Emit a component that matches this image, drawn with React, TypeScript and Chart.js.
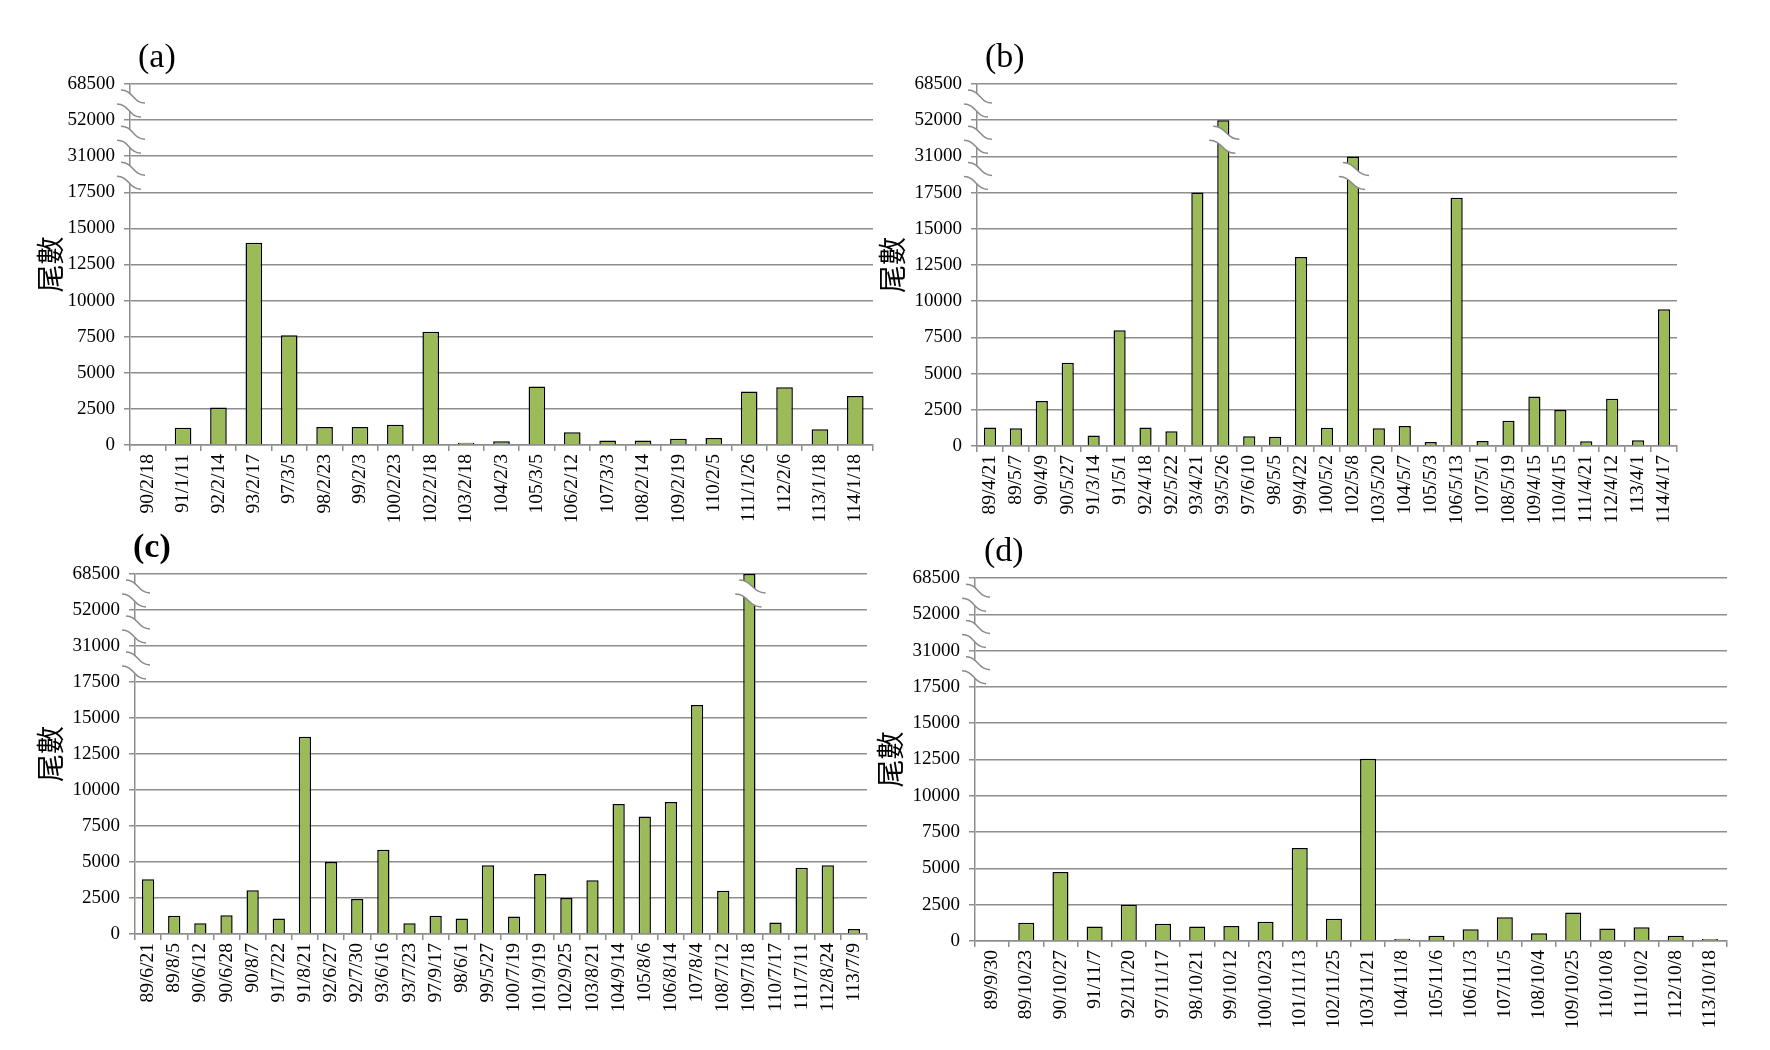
import React, { useEffect, useRef } from "react";
import { Chart, registerables } from "chart.js";

Chart.register(...registerables);

// ---- axis (broken scale) ----
const yTickLabels = ["0", "2500", "5000", "7500", "10000", "12500", "15000", "17500", "31000", "52000", "68500"];
const yTickValues = [0, 2500, 5000, 7500, 10000, 12500, 15000, 17500, 31000, 52000, 68500];
const axisBreakAt = [7.5, 8.5, 9.5];

// ---- (a) ----
const labelsA = ["90/2/18", "91/1/11", "92/2/14", "93/2/17", "97/3/5", "98/2/23", "99/2/3", "100/2/23", "102/2/18", "103/2/18", "104/2/3", "105/3/5", "106/2/12", "107/3/3", "108/2/14", "109/2/19", "110/2/5", "111/1/26", "112/2/6", "113/1/18", "114/1/18"];
const valuesA = [0, 1200, 2600, 14000, 7600, 1250, 1250, 1400, 7850, 150, 260, 4050, 890, 320, 320, 430, 480, 3700, 4000, 1090, 3390];

// ---- (b) ----
const labelsB = ["89/4/21", "89/5/7", "90/4/9", "90/5/27", "91/3/14", "91/5/1", "92/4/18", "92/5/22", "93/4/21", "93/5/26", "97/6/10", "98/5/5", "99/4/22", "100/5/2", "102/5/8", "103/5/20", "104/5/7", "105/5/3", "106/5/13", "107/5/1", "108/5/19", "109/4/15", "110/4/15", "111/4/21", "112/4/12", "113/4/1", "114/4/17"];
const valuesB = [1270, 1230, 3110, 5750, 730, 8000, 1270, 1020, 17500, 52000, 680, 640, 13050, 1260, 31000, 1220, 1380, 280, 17150, 345, 1750, 3420, 2480, 320, 3260, 390, 9440];
const barBreaksB = [{ label: "93/5/26", at: 8.5 }, { label: "102/5/8", at: 7.5 }];

// ---- (c) ----
const labelsC = ["89/6/21", "89/8/5", "90/6/12", "90/6/28", "90/8/7", "91/7/22", "91/8/21", "92/6/27", "92/7/30", "93/6/16", "93/7/23", "97/9/17", "98/6/1", "99/5/27", "100/7/19", "101/9/19", "102/9/25", "103/8/21", "104/9/14", "105/8/6", "106/8/14", "107/8/4", "108/7/12", "109/7/18", "110/7/17", "111/7/11", "112/8/24", "113/7/9"];
const valuesC = [3800, 1260, 750, 1310, 3040, 1075, 13700, 5000, 2430, 5850, 750, 1260, 1075, 4770, 1215, 4160, 2500, 3740, 9030, 8160, 9170, 15900, 3000, 68500, 790, 4600, 4770, 350];
const barBreaksC = [{ label: "109/7/18", at: 9.5 }];

// ---- (d) ----
const labelsD = ["89/9/30", "89/10/23", "90/10/27", "91/11/7", "92/11/20", "97/11/17", "98/10/21", "99/10/12", "100/10/23", "101/11/13", "102/11/25", "103/11/21", "104/11/8", "105/11/6", "106/11/3", "107/11/5", "108/10/4", "109/10/25", "110/10/8", "111/10/2", "112/10/8", "113/10/18"];
const valuesD = [0, 1250, 4750, 1000, 2500, 1180, 1000, 1040, 1320, 6400, 1530, 12550, 160, 370, 810, 1640, 530, 1970, 860, 950, 370, 140];

const SERIF = '"Liberation Serif", "Times New Roman", serif';
const CJK = '"Noto Sans CJK TC", "Noto Sans CJK SC", sans-serif';
const GRID = "#8e8e8e";
const BAR = "#9BBB59";

// map a value onto the broken axis (each tick interval has equal height)
function toAxis(v: number): number {
  for (let i = 0; i < yTickValues.length - 1; i++) {
    const a = yTickValues[i];
    const b = yTickValues[i + 1];
    if (v <= b) return i + (v - a) / (b - a);
  }
  return yTickValues.length - 1;
}

function drawBreak(ctx: CanvasRenderingContext2D, x0: number, x1: number, c: number) {
  const ax0 = x0 + 4, ay0 = c - 12, ax1 = x1, ay1 = c + 1;
  const bx0 = x0, by0 = c + 2, bx1 = x1 - 4, by1 = c + 15;
  const am = (ax0 + ax1) / 2;
  const bm = (bx0 + bx1) / 2;
  ctx.save();
  ctx.beginPath();
  ctx.moveTo(ax0, ay0);
  ctx.bezierCurveTo(am, ay0, am, ay1, ax1, ay1);
  ctx.lineTo(bx1, by1);
  ctx.bezierCurveTo(bm, by1, bm, by0, bx0, by0);
  ctx.closePath();
  ctx.fillStyle = "#ffffff";
  ctx.fill();
  ctx.strokeStyle = "#8a8a8a";
  ctx.lineWidth = 1.5;
  ctx.beginPath();
  ctx.moveTo(ax0, ay0);
  ctx.bezierCurveTo(am, ay0, am, ay1, ax1, ay1);
  ctx.stroke();
  ctx.beginPath();
  ctx.moveTo(bx0, by0);
  ctx.bezierCurveTo(bm, by0, bm, by1, bx1, by1);
  ctx.stroke();
  ctx.restore();
}

const breakPlugin = {
  id: "breaks",
  afterDraw(chart: any, _args: any, opts: any) {
    const { ctx, chartArea } = chart;
    const y = chart.scales.y;
    for (const at of axisBreakAt) {
      drawBreak(ctx, chartArea.left - 13, chartArea.left + 15, y.getPixelForValue(at));
    }
    const meta = chart.getDatasetMeta(0);
    for (const b of opts.barBreaks || []) {
      const idx = chart.data.labels.indexOf(b.label);
      const el = meta.data[idx];
      if (!el) continue;
      const w = el.width;
      drawBreak(ctx, el.x - w / 2 - 8, el.x + w / 2 + 10, y.getPixelForValue(b.at));
    }
    ctx.save();
    ctx.fillStyle = "#000";
    ctx.font = `${opts.tagBold ? "bold " : ""}34px ${SERIF}`;
    ctx.textAlign = "left";
    ctx.textBaseline = "middle";
    ctx.fillText(opts.tag, chartArea.left + opts.tagDx, chartArea.top - 26);
    ctx.restore();
  },
};

type PanelProps = {
  labels: string[];
  values: number[];
  tag: string;
  tagBold?: boolean;
  tagDx: number;
  barBreaks: { label: string; at: number }[];
  left: number;
  top: number;
  width: number;
  height: number;
  padTop: number;
  padRight: number;
  xHeight: number;
  yWidth: number;
};

function Panel(p: PanelProps) {
  const ref = useRef<HTMLCanvasElement | null>(null);
  useEffect(() => {
    if (!ref.current) return;
    const chart = new Chart(ref.current, {
      type: "bar",
      data: {
        labels: p.labels,
        datasets: [
          {
            data: p.values.map(toAxis),
            backgroundColor: BAR,
            borderColor: "#000000",
            borderWidth: 1.5,
            borderSkipped: "start",
            barPercentage: 0.47,
            categoryPercentage: 1,
          },
        ],
      },
      options: {
        responsive: false,
        animation: false,
        devicePixelRatio: 1,
        layout: { padding: { left: 0, top: p.padTop, right: p.padRight, bottom: 0 } },
        plugins: {
          legend: { display: false },
          tooltip: { enabled: false },
          breaks: { tag: p.tag, tagBold: !!p.tagBold, tagDx: p.tagDx, barBreaks: p.barBreaks },
        } as any,
        scales: {
          x: {
            grid: { display: true, drawOnChartArea: false, drawTicks: true, tickLength: 6, color: GRID, lineWidth: 1.5 },
            border: { display: true, color: GRID, width: 1.5 },
            ticks: {
              autoSkip: false,
              minRotation: 90,
              maxRotation: 90,
              padding: 3,
              color: "#000",
              font: { family: SERIF, size: 19.5 },
            },
            afterFit: (s: any) => {
              s.height = p.xHeight;
            },
          },
          y: {
            min: 0,
            max: yTickLabels.length - 1,
            afterBuildTicks: (s: any) => {
              s.ticks = yTickLabels.map((_, i) => ({ value: i }));
            },
            ticks: {
              callback: (v: any) => yTickLabels[Math.round(Number(v))],
              color: "#000",
              font: { family: SERIF, size: 19 },
              padding: 9,
            },
            grid: { color: GRID, lineWidth: 1.5, tickLength: 6 },
            border: { display: true, color: GRID, width: 1.5 },
            title: {
              display: true,
              text: "尾數",
              color: "#000",
              font: { family: CJK, size: 28 },
              padding: { top: 34, bottom: 0 },
            },
            afterFit: (s: any) => {
              s.width = p.yWidth;
            },
          },
        },
      },
      plugins: [breakPlugin as any],
    });
    return () => chart.destroy();
  }, []);
  return (
    <canvas
      ref={ref}
      width={p.width}
      height={p.height}
      style={{ position: "absolute", left: p.left, top: p.top, width: p.width, height: p.height }}
    />
  );
}

export default function App() {
  return (
    <div style={{ position: "absolute", left: 0, top: 0, width: 1770, height: 1050, background: "#fff", overflow: "hidden" }}>
      <Panel labels={labelsA} values={valuesA} tag="(a)" tagDx={8} barBreaks={[]}
        left={0} top={0} width={890} height={545} padTop={84} padRight={17} xHeight={100} yWidth={130} />
      <Panel labels={labelsB} values={valuesB} tag="(b)" tagDx={8} barBreaks={barBreaksB}
        left={842} top={0} width={870} height={545} padTop={84} padRight={35} xHeight={99} yWidth={135} />
      <Panel labels={labelsC} values={valuesC} tag="(c)" tagBold tagDx={-2} barBreaks={barBreaksC}
        left={0} top={525} width={885} height={525} padTop={49} padRight={18} xHeight={116} yWidth={135} />
      <Panel labels={labelsD} values={valuesD} tag="(d)" tagDx={9} barBreaks={[]}
        left={840} top={525} width={905} height={525} padTop={53} padRight={18} xHeight={109} yWidth={135} />
    </div>
  );
}
